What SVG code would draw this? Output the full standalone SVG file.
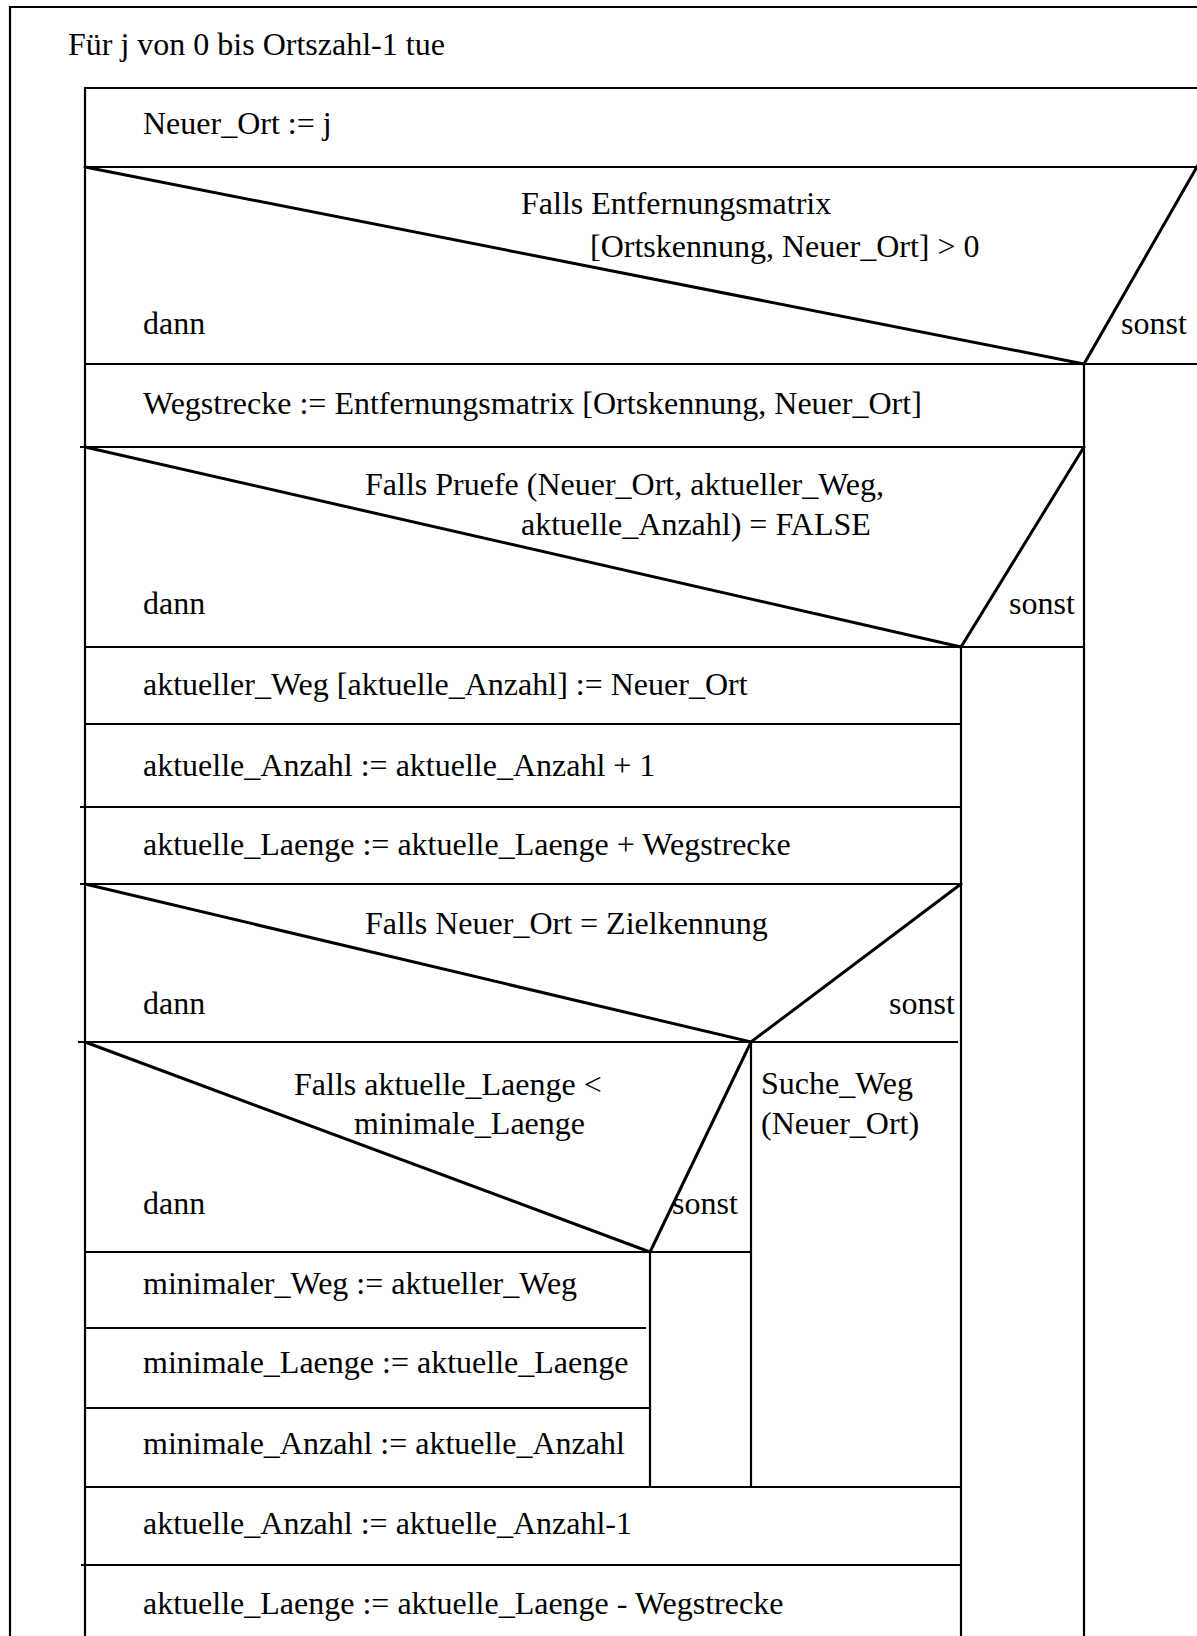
<svg xmlns="http://www.w3.org/2000/svg" width="1197" height="1636" viewBox="0 0 1197 1636">
<style>
text{font-family:"Liberation Serif","Times New Roman",serif;font-size:32px;fill:#000}
.l{stroke:#000;stroke-width:2.2;fill:none}
.d{stroke:#000;stroke-width:3;fill:none;stroke-linecap:round}
</style>
<rect width="1197" height="1636" fill="#fff"/>
<g id="connectors">
<!-- outer loop frame -->
<path class="l" d="M10,1636 V7 H1200"/>
<!-- inner block frame -->
<path class="l" d="M85,1636 V88 H1200"/>
<path class="l" d="M85,167 H1200"/>
<path class="l" d="M85,364 H1200"/>
<path class="l" d="M1084,364 V1636"/>
<path class="l" d="M80,447 H1084"/>
<path class="l" d="M85,647 H1084"/>
<path class="l" d="M961,647 V1636"/>
<path class="l" d="M85,724 H961"/>
<path class="l" d="M80,807 H961"/>
<path class="l" d="M80,884 H961"/>
<path class="l" d="M78,1042 H958"/>
<path class="l" d="M751,1042 V1487"/>
<path class="l" d="M85,1252 H751"/>
<path class="l" d="M650,1252 V1487"/>
<path class="l" d="M85,1328 H646"/>
<path class="l" d="M85,1408 H650"/>
<path class="l" d="M85,1487 H961"/>
<path class="l" d="M81,1565 H961"/>
<!-- decision diagonals -->
<path class="d" d="M85,167 L1084,364 L1198,165"/>
<path class="d" d="M85,447 L961,647 L1084,447"/>
<path class="d" d="M85,884 L751,1042 L961,884"/>
<path class="d" d="M85,1042 L650,1252 L751,1042"/>
</g>
<g id="loop"><text x="68" y="55">Für j von 0 bis Ortszahl-1 tue</text></g>
<g id="s1"><text x="143" y="134">Neuer_Ort := j</text></g>
<g id="if1">
<text x="521" y="214">Falls Entfernungsmatrix</text>
<text x="590" y="257">[Ortskennung, Neuer_Ort] &gt; 0</text>
<text x="143" y="334">dann</text>
<text x="1121" y="334">sonst</text>
</g>
<g id="s2"><text x="143" y="414">Wegstrecke := Entfernungsmatrix [Ortskennung, Neuer_Ort]</text></g>
<g id="if2">
<text x="365" y="495">Falls Pruefe (Neuer_Ort, aktueller_Weg,</text>
<text x="521" y="535">aktuelle_Anzahl) = FALSE</text>
<text x="143" y="614">dann</text>
<text x="1009" y="614">sonst</text>
</g>
<g id="s3"><text x="143" y="695">aktueller_Weg [aktuelle_Anzahl] := Neuer_Ort</text></g>
<g id="s4"><text x="143" y="776">aktuelle_Anzahl := aktuelle_Anzahl + 1</text></g>
<g id="s5"><text x="143" y="855">aktuelle_Laenge := aktuelle_Laenge + Wegstrecke</text></g>
<g id="if3">
<text x="365" y="934">Falls Neuer_Ort = Zielkennung</text>
<text x="143" y="1014">dann</text>
<text x="889" y="1014">sonst</text>
</g>
<g id="call"><text x="761" y="1094">Suche_Weg</text><text x="761" y="1134">(Neuer_Ort)</text></g>
<g id="if4">
<text x="294" y="1095">Falls aktuelle_Laenge &lt;</text>
<text x="354" y="1134">minimale_Laenge</text>
<text x="143" y="1214">dann</text>
<text x="672" y="1214">sonst</text>
</g>
<g id="s6"><text x="143" y="1294">minimaler_Weg := aktueller_Weg</text></g>
<g id="s7"><text x="143" y="1373">minimale_Laenge := aktuelle_Laenge</text></g>
<g id="s8"><text x="143" y="1454">minimale_Anzahl := aktuelle_Anzahl</text></g>
<g id="s9"><text x="143" y="1534">aktuelle_Anzahl := aktuelle_Anzahl-1</text></g>
<g id="s10"><text x="143" y="1614">aktuelle_Laenge := aktuelle_Laenge - Wegstrecke</text></g>
</svg>
